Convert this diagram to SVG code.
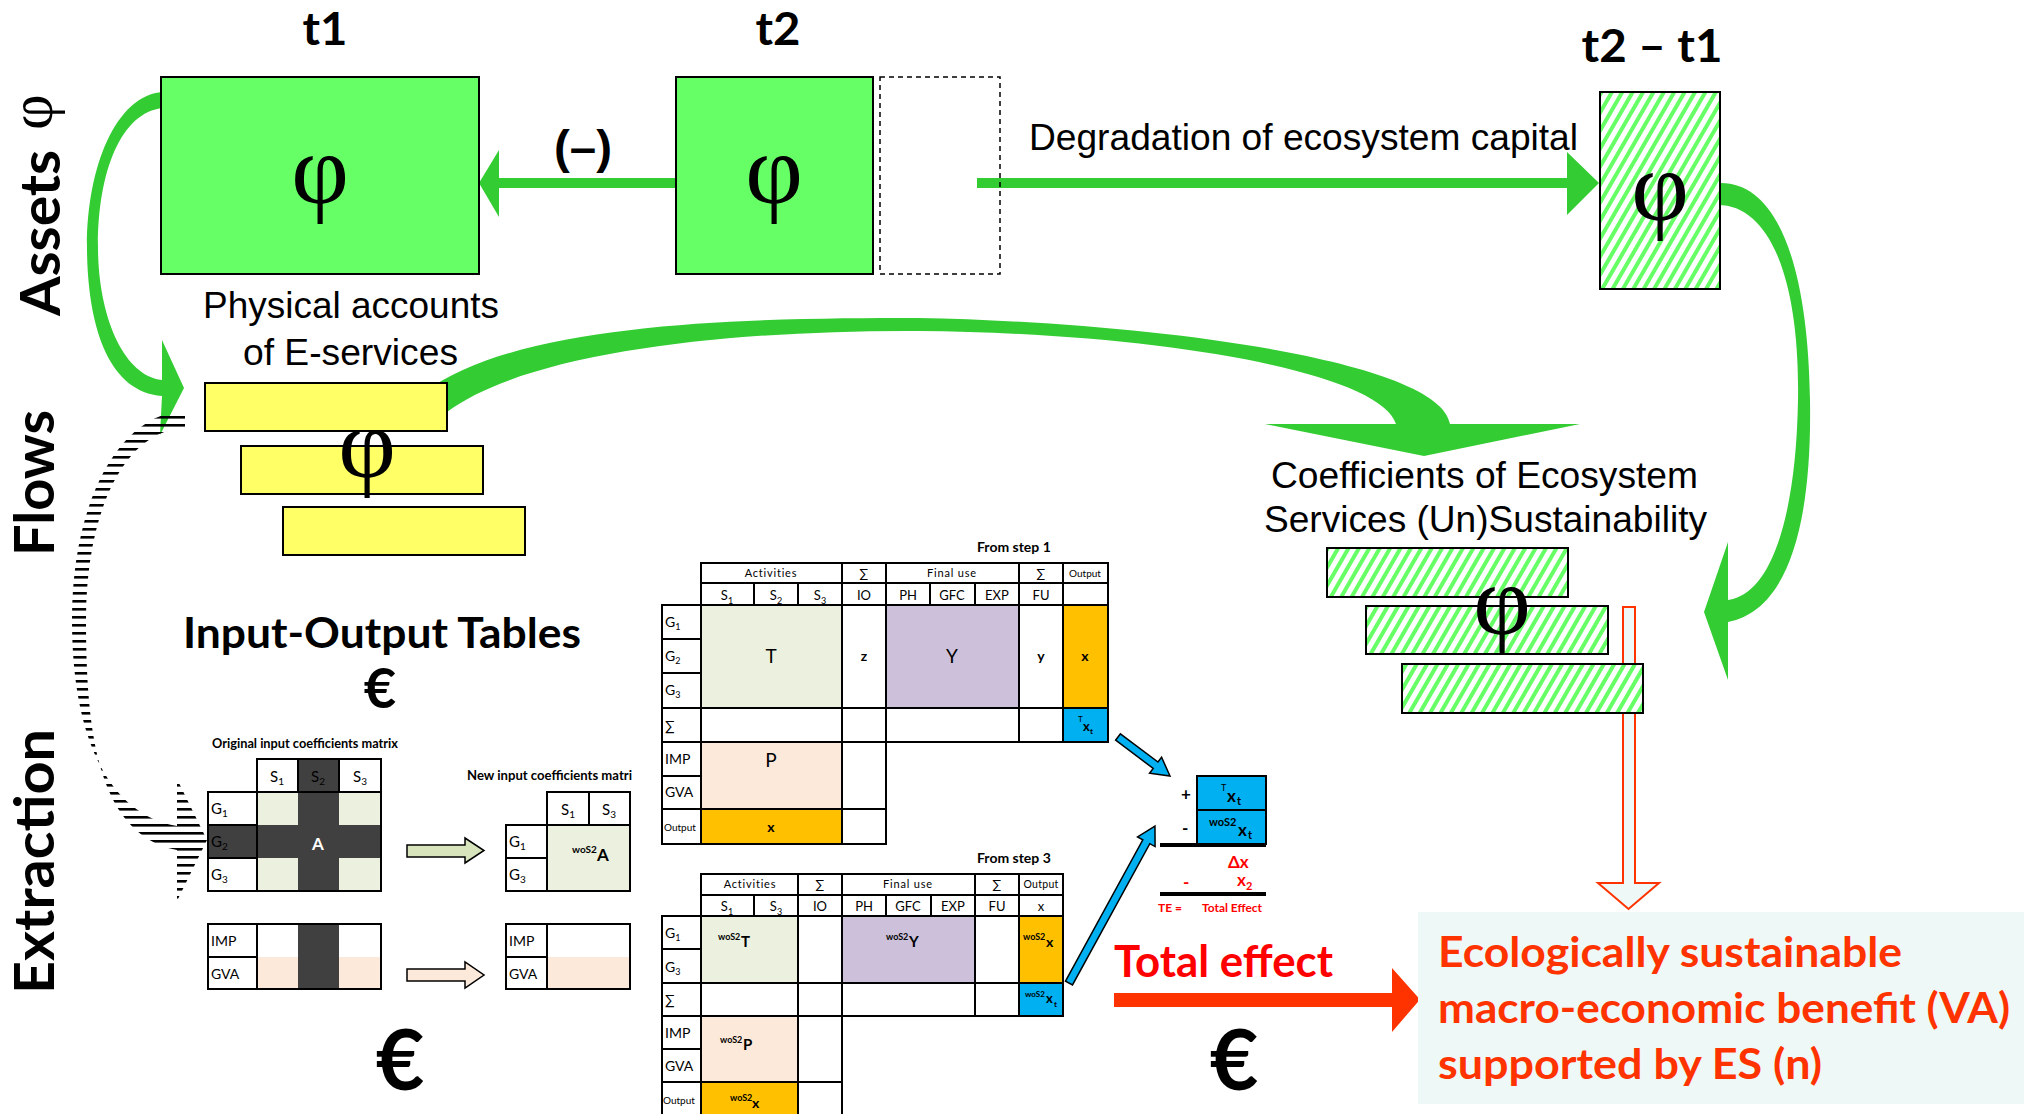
<svg xmlns="http://www.w3.org/2000/svg" width="2024" height="1114" viewBox="0 0 2024 1114">
<defs>
<style>
.ar{font-family:"Liberation Sans",Arial,sans-serif;fill:#000}
.cb{font-family:Lato,"Open Sans","Liberation Sans",sans-serif;font-weight:bold;fill:#000}
.cl{font-family:Lato,"Open Sans","Liberation Sans",sans-serif;fill:#000}
.phi{font-family:"Liberation Serif","Times New Roman",serif;fill:#000}
.box{stroke:#000;stroke-width:2}
.cell{stroke:#000;stroke-width:2;fill:#fff}
.g{fill:#33CC33}
.red{fill:#FF0000}
.or{fill:#FF3300}
</style>
<pattern id="hatch" patternUnits="userSpaceOnUse" width="9" height="9" patternTransform="rotate(30)">
<rect width="9" height="9" fill="#fff"/><rect width="4" height="9" fill="#66FF66"/>
</pattern>
<pattern id="hlines" patternUnits="userSpaceOnUse" width="10" height="8">
<rect y="0" width="10" height="2.6" fill="#000"/>
</pattern>
</defs>
<rect width="2024" height="1114" fill="#fff"/>

<!-- side labels -->
<g id="side-labels">
<text class="cb" font-size="56" transform="translate(60,316) rotate(-90)" textLength="166" lengthAdjust="spacingAndGlyphs">Assets</text>
<text class="phi" font-size="62" transform="translate(52,130) rotate(-90)">φ</text>
<text class="cb" font-size="56" transform="translate(54,556) rotate(-90)" textLength="146" lengthAdjust="spacingAndGlyphs">Flows</text>
<text class="cb" font-size="56" transform="translate(54,994) rotate(-90)" textLength="265" lengthAdjust="spacingAndGlyphs">Extraction</text>
</g>

<!-- connectors -->
<g id="connectors">
<!-- t2 -> t1 -->
<path class="g" d="M676 178 L499 178 L499 150 L479 183 L499 217 L499 188 L676 188 Z"/>
<!-- t2 -> t2-t1 -->
<path class="g" d="M977 178 L1567 178 L1567 152 L1599 183 L1567 215 L1567 188 L977 188 Z"/>
<!-- t1 -> flows (left curve) -->
<path class="g" d="M163 92 C115 95 86 170 87 250 C88 330 110 392 162 396 L160 435 L184 388 L162 340 L162 380 C125 376 99 320 98 250 C97 175 120 112 163 108 Z"/>
<!-- flows -> coefficients (top arc) -->
<path class="g" d="M425 392 C520 320 760 318 918 318 C1150 322 1440 360 1450 424 L1580 424 L1424 456 L1265 424 L1396 424 C1380 372 1160 333 918 331 C740 330 530 350 447 412 Z"/>
<!-- t2-t1 -> coefficients (right curve) -->
<path class="g" d="M1718 183 C1775 180 1808 260 1810 400 C1812 520 1790 610 1728 622 L1728 680 L1704 612 L1728 542 L1728 600 C1770 595 1796 520 1798 400 C1800 280 1770 205 1718 205 Z"/>
<!-- flows -> extraction (striped curve) -->
<path fill="url(#hlines)" d="M185 411 C120 413 72 500 72 620 C72 740 110 815 177 826 L177 779 L207 840 L177 901 L177 850 C100 835 86 740 86 620 C86 510 125 430 185 428 Z"/>
<!-- extraction block arrows -->
<path fill="#D7E4BC" stroke="#000" stroke-width="1.5" d="M407 845 L465 845 L465 838 L484 850.5 L465 863 L465 857 L407 857 Z"/>
<path fill="#FDE9D9" stroke="#000" stroke-width="1.5" d="M407 969 L465 969 L465 962 L484 975 L465 988 L465 981 L407 981 Z"/>
<!-- blue arrows -->
<path fill="#00B0F0" stroke="#000" stroke-width="1.5" transform="translate(1118,737) rotate(36.9)" d="M0 -4 L47 -4 L47 -10 L65 0 L47 10 L47 4 L0 4 Z"/>
<path fill="#00B0F0" stroke="#000" stroke-width="1.5" transform="translate(1069,983) rotate(-61.3)" d="M0 -4 L161 -4 L161 -10 L179 0 L161 10 L161 4 L0 4 Z"/>
<!-- red total effect arrow -->
<path class="or" d="M1114 993 L1392 993 L1392 968 L1420 999.5 L1392 1032 L1392 1007 L1114 1007 Z"/>
<!-- hollow red arrow down -->
<path fill="#EEF8F7" stroke="#FF3300" stroke-width="2" d="M1623 607 L1635 607 L1635 883 L1659 883 L1628.5 909 L1598 883 L1623 883 Z"/>
</g>

<!-- headers -->
<g id="time-labels">
<text class="cb" font-size="46" x="325" y="45" text-anchor="middle" textLength="45" lengthAdjust="spacingAndGlyphs">t1</text>
<text class="cb" font-size="46" x="778" y="45" text-anchor="middle" textLength="45" lengthAdjust="spacingAndGlyphs">t2</text>
<text class="cb" font-size="46" x="1652" y="62" text-anchor="middle" textLength="141" lengthAdjust="spacingAndGlyphs">t2 – t1</text>
</g>

<g id="asset-t1">
<rect class="box" x="161" y="77" width="318" height="197" fill="#66FF66"/>
<text class="phi" font-size="100" x="320" y="203" text-anchor="middle">φ</text>
</g>
<g id="asset-t2">
<rect class="box" x="676" y="77" width="197" height="197" fill="#66FF66"/>
<text class="phi" font-size="100" x="774" y="203" text-anchor="middle">φ</text>
<rect x="880" y="77" width="120" height="197" fill="none" stroke="#000" stroke-width="1.5" stroke-dasharray="5,4"/>
</g>
<g id="minus-label">
<text class="ar" font-size="46" font-weight="bold" x="583" y="163" text-anchor="middle" textLength="58" lengthAdjust="spacingAndGlyphs">(–)</text>
</g>
<g id="degradation-label">
<text class="ar" font-size="37" x="1029" y="150" textLength="549" lengthAdjust="spacingAndGlyphs">Degradation of ecosystem capital</text>
</g>
<g id="asset-diff">
<rect class="box" x="1600" y="92" width="120" height="197" fill="url(#hatch)"/>
<text class="phi" font-size="100" x="1660" y="220" text-anchor="middle">φ</text>
</g>

<g id="flows">
<text class="ar" font-size="37" x="203" y="318" textLength="296" lengthAdjust="spacingAndGlyphs">Physical accounts</text>
<text class="ar" font-size="37" x="243" y="365" textLength="215" lengthAdjust="spacingAndGlyphs">of E-services</text>
<rect class="box" x="205" y="383" width="242" height="48" fill="#FFFF66"/>
<rect class="box" x="241" y="446" width="242" height="48" fill="#FFFF66"/>
<rect class="box" x="283" y="507" width="242" height="48" fill="#FFFF66"/>
<text class="phi" font-size="100" x="367" y="477" text-anchor="middle">φ</text>
</g>

<g id="coefficients">
<text class="ar" font-size="36" x="1271" y="488" textLength="427" lengthAdjust="spacingAndGlyphs">Coefficients of Ecosystem</text>
<text class="ar" font-size="36" x="1264" y="532" textLength="443" lengthAdjust="spacingAndGlyphs">Services (Un)Sustainability</text>
<rect class="box" x="1327" y="548" width="241" height="49" fill="url(#hatch)"/>
<rect class="box" x="1366" y="606" width="242" height="48" fill="url(#hatch)"/>
<rect class="box" x="1402" y="664" width="241" height="49" fill="url(#hatch)"/>
<text class="phi" font-size="100" x="1502" y="634" text-anchor="middle">φ</text>
</g>

<g id="io-title">
<text class="cb" font-size="42" x="382" y="648" text-anchor="middle" textLength="398" lengthAdjust="spacingAndGlyphs">Input-Output Tables</text>
<text class="cb" font-size="56" x="380" y="708" text-anchor="middle">€</text>
</g>

<!-- original input coefficients matrix -->
<g id="original-matrix">
<text class="cb" font-size="13" x="212" y="748" textLength="186" lengthAdjust="spacingAndGlyphs">Original input coefficients matrix</text>
<rect x="257" y="792" width="124" height="99" fill="#EBF1DE"/>
<rect x="298" y="759" width="41" height="132" fill="#404040"/>
<rect x="208" y="825" width="173" height="33" fill="#404040"/>
<rect x="257" y="759" width="124" height="33" fill="none" stroke="#000" stroke-width="2"/>
<line x1="298" y1="759" x2="298" y2="792" stroke="#000" stroke-width="2"/>
<line x1="339" y1="759" x2="339" y2="792" stroke="#000" stroke-width="2"/>
<rect x="208" y="792" width="173" height="99" fill="none" stroke="#000" stroke-width="2"/>
<line x1="257" y1="792" x2="257" y2="891" stroke="#000" stroke-width="2"/>
<line x1="208" y1="825" x2="257" y2="825" stroke="#000" stroke-width="2"/>
<line x1="208" y1="858" x2="257" y2="858" stroke="#000" stroke-width="2"/>
<text class="cl" font-size="15" x="277" y="782" text-anchor="middle">S<tspan font-size="10" dy="3">1</tspan></text>
<text class="cl" font-size="15" x="318" y="782" text-anchor="middle" fill="#111">S<tspan font-size="10" dy="3">2</tspan></text>
<text class="cl" font-size="15" x="360" y="782" text-anchor="middle">S<tspan font-size="10" dy="3">3</tspan></text>
<text class="cl" font-size="15" x="211" y="814">G<tspan font-size="10" dy="3">1</tspan></text>
<text class="cl" font-size="15" x="211" y="847" fill="#111">G<tspan font-size="10" dy="3">2</tspan></text>
<text class="cl" font-size="15" x="211" y="880">G<tspan font-size="10" dy="3">3</tspan></text>
<text class="cb" font-size="17" x="318" y="850" text-anchor="middle" style="fill:#fff">A</text>
<rect x="257" y="957" width="124" height="32" fill="#FDE9D9"/>
<rect x="298" y="924" width="41" height="65" fill="#404040"/>
<rect x="208" y="924" width="173" height="65" fill="none" stroke="#000" stroke-width="2"/>
<line x1="257" y1="924" x2="257" y2="989" stroke="#000" stroke-width="2"/>
<line x1="208" y1="957" x2="257" y2="957" stroke="#000" stroke-width="2"/>
<text class="cl" font-size="14" x="211" y="946">IMP</text>
<text class="cl" font-size="14" x="211" y="979">GVA</text>
<text class="cb" font-size="84" x="400" y="1090" text-anchor="middle">€</text>
</g>

<!-- new input coefficients matrix -->
<g id="new-matrix">
<text class="cb" font-size="13" x="467" y="780" textLength="165" lengthAdjust="spacingAndGlyphs">New input coefficients matri</text>
<rect x="547" y="825" width="83" height="66" fill="#EBF1DE"/>
<rect x="547" y="792" width="83" height="33" fill="none" stroke="#000" stroke-width="2"/>
<line x1="589" y1="792" x2="589" y2="825" stroke="#000" stroke-width="2"/>
<rect x="506" y="825" width="124" height="66" fill="none" stroke="#000" stroke-width="2"/>
<line x1="547" y1="825" x2="547" y2="891" stroke="#000" stroke-width="2"/>
<line x1="506" y1="858" x2="547" y2="858" stroke="#000" stroke-width="2"/>
<text class="cl" font-size="15" x="568" y="815" text-anchor="middle">S<tspan font-size="10" dy="3">1</tspan></text>
<text class="cl" font-size="15" x="609" y="815" text-anchor="middle">S<tspan font-size="10" dy="3">3</tspan></text>
<text class="cl" font-size="15" x="509" y="847">G<tspan font-size="10" dy="3">1</tspan></text>
<text class="cl" font-size="15" x="509" y="880">G<tspan font-size="10" dy="3">3</tspan></text>
<text class="cb" font-size="10" x="572" y="853">woS2</text>
<text class="cb" font-size="17" x="597" y="861">A</text>
<rect x="547" y="957" width="83" height="32" fill="#FDE9D9"/>
<rect x="506" y="924" width="124" height="65" fill="none" stroke="#000" stroke-width="2"/>
<line x1="547" y1="924" x2="547" y2="989" stroke="#000" stroke-width="2"/>
<line x1="506" y1="957" x2="547" y2="957" stroke="#000" stroke-width="2"/>
<text class="cl" font-size="14" x="509" y="946">IMP</text>
<text class="cl" font-size="14" x="509" y="979">GVA</text>
</g>

<!-- IO table step 1 -->
<g id="io-table-step1">
<text class="cb" font-size="14" x="977" y="552">From step 1</text>
<g class="cell">
<rect x="701" y="563" width="141" height="20"/><rect x="842" y="563" width="44" height="20"/><rect x="886" y="563" width="133" height="20"/><rect x="1019" y="563" width="44" height="20"/><rect x="1063" y="563" width="45" height="20"/>
<rect x="701" y="583" width="53" height="22"/><rect x="754" y="583" width="44" height="22"/><rect x="798" y="583" width="44" height="22"/><rect x="842" y="583" width="44" height="22"/><rect x="886" y="583" width="44" height="22"/><rect x="930" y="583" width="45" height="22"/><rect x="975" y="583" width="44" height="22"/><rect x="1019" y="583" width="44" height="22"/><rect x="1063" y="583" width="45" height="22"/>
<rect x="662" y="605" width="39" height="34"/><rect x="662" y="639" width="39" height="34"/><rect x="662" y="673" width="39" height="35"/><rect x="662" y="708" width="39" height="34"/><rect x="662" y="742" width="39" height="34"/><rect x="662" y="776" width="39" height="33"/><rect x="662" y="809" width="39" height="35"/>
<rect x="701" y="605" width="141" height="103" fill="#EBF1DE"/><rect x="842" y="605" width="44" height="103"/><rect x="886" y="605" width="133" height="103" fill="#CCC0DA"/><rect x="1019" y="605" width="44" height="103"/><rect x="1063" y="605" width="45" height="103" fill="#FFC000"/>
<rect x="701" y="708" width="141" height="34"/><rect x="842" y="708" width="44" height="34"/><rect x="886" y="708" width="133" height="34"/><rect x="1019" y="708" width="44" height="34"/><rect x="1063" y="708" width="45" height="34" fill="#00B0F0"/>
<rect x="701" y="742" width="141" height="67" fill="#FDE9D9"/><rect x="842" y="742" width="44" height="67"/>
<rect x="701" y="809" width="141" height="35" fill="#FFC000"/><rect x="842" y="809" width="44" height="35"/>
</g>
<g class="cl" font-size="11" text-anchor="middle" letter-spacing="0.8">
<text x="771" y="577">Activities</text><text x="952" y="577">Final use</text>
<text x="1085" y="577" font-size="10" letter-spacing="0">Output</text>
<text x="864" y="578" font-size="13" letter-spacing="0">∑</text><text x="1041" y="578" font-size="13" letter-spacing="0">∑</text>
</g>
<g class="cl" font-size="13" text-anchor="middle">
<text x="727" y="600">S<tspan font-size="9" dy="4">1</tspan></text><text x="776" y="600">S<tspan font-size="9" dy="4">2</tspan></text><text x="820" y="600">S<tspan font-size="9" dy="4">3</tspan></text>
<text x="864" y="600">IO</text><text x="908" y="600">PH</text><text x="952" y="600">GFC</text><text x="997" y="600">EXP</text><text x="1041" y="600">FU</text>
</g>
<g class="cl" font-size="14">
<text x="665" y="627">G<tspan font-size="9" dy="3">1</tspan></text>
<text x="665" y="661">G<tspan font-size="9" dy="3">2</tspan></text>
<text x="665" y="695">G<tspan font-size="9" dy="3">3</tspan></text>
<text x="665" y="731">∑</text>
<text x="665" y="764">IMP</text>
<text x="665" y="797">GVA</text>
<text x="664" y="831" font-size="10">Output</text>
</g>
<text class="cl" font-size="19" x="771" y="663" text-anchor="middle">T</text>
<text class="cb" font-size="14" x="864" y="661" text-anchor="middle">z</text>
<text class="cl" font-size="19" x="952" y="663" text-anchor="middle">Y</text>
<text class="cb" font-size="14" x="1041" y="661" text-anchor="middle">y</text>
<text class="cb" font-size="14" x="1085" y="661" text-anchor="middle">x</text>
<text class="cl" font-size="8" x="1078" y="722">T</text>
<text class="cb" font-size="13" x="1083" y="731">x</text>
<text class="cb" font-size="8" x="1090" y="734">t</text>
<text class="cl" font-size="19" x="771" y="767" text-anchor="middle">P</text>
<text class="cb" font-size="14" x="771" y="832" text-anchor="middle">x</text>
</g>

<!-- IO table step 3 -->
<g id="io-table-step3">
<text class="cb" font-size="14" x="977" y="863">From step 3</text>
<g class="cell">
<rect x="701" y="874" width="97" height="21"/><rect x="798" y="874" width="44" height="21"/><rect x="842" y="874" width="133" height="21"/><rect x="975" y="874" width="44" height="21"/><rect x="1019" y="874" width="44" height="21"/>
<rect x="701" y="895" width="53" height="21"/><rect x="754" y="895" width="44" height="21"/><rect x="798" y="895" width="44" height="21"/><rect x="842" y="895" width="44" height="21"/><rect x="886" y="895" width="45" height="21"/><rect x="931" y="895" width="44" height="21"/><rect x="975" y="895" width="44" height="21"/><rect x="1019" y="895" width="44" height="21"/>
<rect x="662" y="916" width="39" height="33"/><rect x="662" y="949" width="39" height="34"/><rect x="662" y="983" width="39" height="33"/><rect x="662" y="1016" width="39" height="33"/><rect x="662" y="1049" width="39" height="33"/><rect x="662" y="1082" width="39" height="34"/>
<rect x="701" y="916" width="97" height="67" fill="#EBF1DE"/><rect x="798" y="916" width="44" height="67"/><rect x="842" y="916" width="133" height="67" fill="#CCC0DA"/><rect x="975" y="916" width="44" height="67"/><rect x="1019" y="916" width="44" height="67" fill="#FFC000"/>
<rect x="701" y="983" width="97" height="33"/><rect x="798" y="983" width="44" height="33"/><rect x="842" y="983" width="133" height="33"/><rect x="975" y="983" width="44" height="33"/><rect x="1019" y="983" width="44" height="33" fill="#00B0F0"/>
<rect x="701" y="1016" width="97" height="66" fill="#FDE9D9"/><rect x="798" y="1016" width="44" height="66"/>
<rect x="701" y="1082" width="97" height="34" fill="#FFC000"/><rect x="798" y="1082" width="44" height="34"/>
</g>
<g class="cl" font-size="11" text-anchor="middle" letter-spacing="0.8">
<text x="750" y="888">Activities</text><text x="908" y="888">Final use</text>
<text x="1041" y="888" font-size="10.5" letter-spacing="0.3">Output</text>
<text x="820" y="889" font-size="13" letter-spacing="0">∑</text><text x="997" y="889" font-size="13" letter-spacing="0">∑</text>
</g>
<g class="cl" font-size="13" text-anchor="middle">
<text x="727" y="911">S<tspan font-size="9" dy="4">1</tspan></text><text x="776" y="911">S<tspan font-size="9" dy="4">3</tspan></text>
<text x="820" y="911">IO</text><text x="864" y="911">PH</text><text x="908" y="911">GFC</text><text x="953" y="911">EXP</text><text x="997" y="911">FU</text><text x="1041" y="911">x</text>
</g>
<g class="cl" font-size="14">
<text x="665" y="938">G<tspan font-size="9" dy="3">1</tspan></text>
<text x="665" y="972">G<tspan font-size="9" dy="3">3</tspan></text>
<text x="665" y="1005">∑</text>
<text x="665" y="1038">IMP</text>
<text x="665" y="1071">GVA</text>
<text x="663" y="1104" font-size="10">Output</text>
</g>
<g class="cb">
<text x="718" y="940" font-size="9">woS2</text><text x="741" y="947" font-size="15">T</text>
<text x="886" y="940" font-size="9">woS2</text><text x="909" y="947" font-size="15">Y</text>
<text x="1023" y="940" font-size="9">woS2</text><text x="1046" y="947" font-size="14">x</text>
<text x="1025" y="997" font-size="8">woS2</text><text x="1046" y="1003" font-size="13">x</text><text x="1054" y="1007" font-size="8">t</text>
<text x="720" y="1043" font-size="9">woS2</text><text x="743" y="1050" font-size="15">P</text>
<text x="730" y="1101" font-size="9">woS2</text><text x="752" y="1108" font-size="14">x</text>
</g>
</g>

<!-- total effect formula -->
<g id="formula">
<rect class="box" x="1197" y="776" width="69" height="34" fill="#00B0F0"/>
<rect class="box" x="1197" y="810" width="69" height="34" fill="#00B0F0"/>
<text class="cl" font-size="9" x="1221" y="791">T</text>
<text class="cb" font-size="17" x="1227" y="802">x</text>
<text class="cb" font-size="11" x="1237" y="805">t</text>
<text class="cb" font-size="11" x="1209" y="826">woS2</text>
<text class="cb" font-size="17" x="1238" y="836">x</text>
<text class="cb" font-size="11" x="1248" y="839">t</text>
<text class="cb" font-size="17" x="1181" y="800">+</text>
<text class="cb" font-size="17" x="1182" y="834">-</text>
<rect x="1160" y="843" width="106" height="4" fill="#000"/>
<text class="cb red" font-size="17" x="1228" y="868">Δx</text>
<text class="cb red" font-size="17" x="1183" y="888">-</text>
<text class="cb red" font-size="17" x="1237" y="886">x<tspan font-size="11" dy="4">2</tspan></text>
<rect x="1160" y="892" width="106" height="4" fill="#000"/>
<text class="cb red" font-size="12" x="1158" y="912">TE =</text>
<text class="cb red" font-size="11.5" x="1202" y="912" textLength="60" lengthAdjust="spacingAndGlyphs">Total Effect</text>
</g>

<g id="total-effect">
<text class="cb red" font-size="44" x="1114" y="977" textLength="219" lengthAdjust="spacingAndGlyphs">Total effect</text>
<text class="cb" font-size="84" x="1234" y="1090" text-anchor="middle">€</text>
</g>

<g id="benefit">
<rect x="1418" y="912" width="606" height="192" fill="#EEF8F7"/>
<text class="cb or" font-size="42" x="1438" y="967" textLength="464" lengthAdjust="spacingAndGlyphs">Ecologically sustainable</text>
<text class="cb or" font-size="42" x="1438" y="1023" textLength="572" lengthAdjust="spacingAndGlyphs">macro-economic benefit (VA)</text>
<text class="cb or" font-size="42" x="1438" y="1079" textLength="384" lengthAdjust="spacingAndGlyphs">supported by ES (n)</text>
</g>
</svg>
